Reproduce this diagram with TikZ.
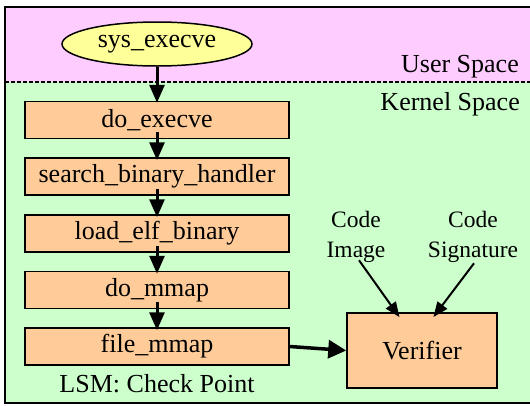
\documentclass[tikz,border=0pt]{standalone}
\usepackage{fontspec}
\setmainfont{Liberation Serif}
\usetikzlibrary{arrows.meta,shapes.geometric}
\definecolor{userpink}{HTML}{FFCCFF}
\definecolor{kernelgreen}{HTML}{CCFFCC}
\definecolor{boxorange}{HTML}{FFCC99}
\definecolor{callyellow}{HTML}{FFFF99}
\begin{document}
\begin{tikzpicture}[x=1pt,y=-1pt,
  every node/.style={font=\fontsize{26}{30}\selectfont, inner sep=0pt},
  fnbox/.style={draw=black, line width=1.5pt, fill=boxorange,
    minimum width=264pt, minimum height=37pt},
  note/.style={font=\fontsize{23.5}{28}\selectfont},
  flow/.style={line width=3pt, -{Triangle[length=18pt,width=15pt]}},
  feed/.style={line width=2pt, -{Triangle[length=15pt,width=12pt]}}]
  \useasboundingbox (0,0) rectangle (530,405);
  \fill[white] (0,0) rectangle (530,405);

  % user and kernel space areas
  \fill[userpink] (5,7) rectangle (533,82);
  \fill[kernelgreen] (5,82) rectangle (533,403);
  \draw[line width=2pt] (533,7) -- (5,7) -- (5,403) -- (533,403);
  \draw[line width=2.5pt, dash pattern=on 3.5pt off 2.5pt] (5,82) -- (533,82);
  \node[anchor=base east] (user) at (519,72) {User Space};
  \node[anchor=base east] (kernel) at (520,110) {Kernel Space};

  % system call path
  \node[ellipse, draw=black, line width=1.5pt, fill=callyellow,
    minimum width=190pt, minimum height=44pt] (sys) at (157,44) {sys\_execve};
  \node[fnbox] (exec) at (157,120) {do\_execve};
  \node[fnbox] (search) at (157,176.5) {search\_binary\_handler};
  \node[fnbox] (elf) at (157,233.5) {load\_elf\_binary};
  \node[fnbox] (mmap) at (157,290) {do\_mmap};
  \node[fnbox] (fmmap) at (157,346.5) {file\_mmap};
  \node[anchor=base] (lsm) at (157,392) {LSM: Check Point};

  \draw[flow, shorten >=-2pt] (sys.south) -- (exec.north);
  \draw[flow, shorten <=-7pt, shorten >=-3pt] (exec.south) -- (search.north);
  \draw[flow, shorten <=-7pt, shorten >=-3pt] (search.south) -- (elf.north);
  \draw[flow, shorten <=-7pt, shorten >=-3pt] (elf.south) -- (mmap.north);
  \draw[flow, shorten <=-7pt, shorten >=-3pt] (mmap.south) -- (fmmap.north);

  % verifier and its inputs
  \node[draw=black, line width=1.5pt, fill=boxorange,
    minimum width=150pt, minimum height=75pt] (ver) at (422,350.5) {Verifier};
  \node[note, anchor=base] (codeA) at (356,227) {Code};
  \node[note, anchor=base] (img) at (356,257) {Image};
  \node[note, anchor=base] (codeB) at (473,227) {Code};
  \node[note, anchor=base] (sig) at (473,257) {Signature};

  \draw[line width=3.5pt, -{Triangle[length=18pt,width=18pt]}] (fmmap.east) -- (ver.west);
  \draw[feed, shorten >=-6pt] ([xshift=3pt,yshift=2pt]img.south) -- ([xshift=-26pt]ver.north);
  \draw[feed, shorten >=-6pt] ([xshift=1pt,yshift=-1pt]sig.south) -- ([xshift=15pt]ver.north);
\end{tikzpicture}
\end{document}
